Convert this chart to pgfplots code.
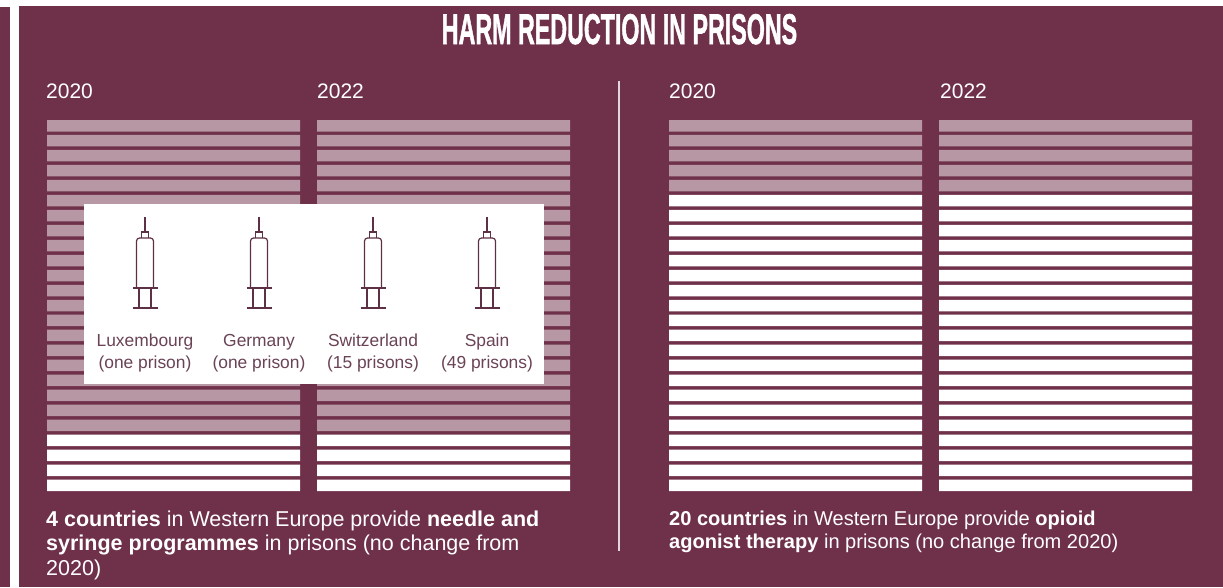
\documentclass[border=0pt]{standalone}
\usepackage{pgfplots}
\usepackage{pgfplotstable}
\usepackage{fontspec}
\setmainfont{Liberation Sans}
\newfontfamily\titlefont[FakeBold=1.6]{Liberation Sans Bold}
\pgfplotsset{compat=1.18}
\definecolor{wine}{HTML}{6F3049}
\definecolor{winelight}{HTML}{B797A3}
\definecolor{icon}{HTML}{5E3045}
\definecolor{icontext}{HTML}{6A4356}

% One row per country, counted from the bottom: provides the service or not
\pgfplotstableread{
row with without
1 1 0
2 1 0
3 1 0
4 1 0
5 0 1
6 0 1
7 0 1
8 0 1
9 0 1
10 0 1
11 0 1
12 0 1
13 0 1
14 0 1
15 0 1
16 0 1
17 0 1
18 0 1
19 0 1
20 0 1
21 0 1
22 0 1
23 0 1
24 0 1
25 0 1
}\needletable
\pgfplotstableread{
row with without
1 1 0
2 1 0
3 1 0
4 1 0
5 1 0
6 1 0
7 1 0
8 1 0
9 1 0
10 1 0
11 1 0
12 1 0
13 1 0
14 1 0
15 1 0
16 1 0
17 1 0
18 1 0
19 1 0
20 1 0
21 0 1
22 0 1
23 0 1
24 0 1
25 0 1
}\opioidtable

% Stacked rows for one panel: #1 table, #2 left edge
\newcommand{\rowspanel}[2]{%
  \begin{axis}[
    at={(#2pt,-491pt)}, anchor=south west,
    scale only axis, width=253pt, height=371pt,
    hide axis, xmin=0, xmax=1, ymin=0.616, ymax=25.384,
    xbar stacked, bar width=11.5pt,
  ]
    \addplot[fill=white, draw=none] table[x=with, y=row] {#1};
    \addplot[fill=winelight, draw=none] table[x=without, y=row] {#1};
  \end{axis}}

% Syringe icon with its caption: #1 centre x, #2 first line, #3 second line
\newcommand{\syringe}[3]{%
  \begin{scope}[x=1pt, y=-1pt, shift={(#1pt,0pt)}, draw=icon, line width=1.2pt]
    \draw (0,217) -- (0,232);
    \draw (-3.8,238) -- (-3.8,232) -- (3.8,232) -- (3.8,238);
    \draw (-8.5,288) -- (-8.5,241) arc[start angle=180, end angle=90, radius=3pt]
      -- (5.5,238) arc[start angle=90, end angle=0, radius=3pt] -- (8.5,288);
    \draw (-12.5,288) -- (12.5,288);
    \draw (-6,288) -- (-6,308) (6,288) -- (6,308);
    \draw (-12.5,308) -- (12.5,308);
    \node[text=icontext, inner sep=0pt, font=\fontsize{17.4}{18}\selectfont, anchor=base] at (0,346) {#2};
    \node[text=icontext, inner sep=0pt, font=\fontsize{17.4}{18}\selectfont, anchor=base] at (0,368) {#3};
  \end{scope}}

\begin{document}
\begin{tikzpicture}
  % Page ground and the wine-coloured panels
  \fill[white] (0pt,0pt) rectangle (1223pt,-587pt);
  \fill[wine] (0pt,-7pt) rectangle (10pt,-587pt);
  \fill[wine] (19pt,-6pt) rectangle (1223pt,-587pt);

  \rowspanel{\needletable}{47}
  \rowspanel{\needletable}{317}
  \rowspanel{\opioidtable}{669}
  \rowspanel{\opioidtable}{939}

  \begin{scope}[x=1pt, y=-1pt]
    \node[text=white, anchor=base, inner sep=0pt, font=\titlefont\fontsize{43}{43}\selectfont] at (619.5,44)
      {\scalebox{0.541}[1]{HARM REDUCTION IN PRISONS}};
    \foreach \x/\yr in {46/2020, 317/2022, 669/2020, 940/2022}
      \node[text=white, anchor=base west, inner sep=0pt, font=\fontsize{21}{21}\selectfont] at (\x,98) {\yr};
    \draw[white!80!wine, line width=2pt] (619,81) -- (619,551);
    \fill[white] (84,204) rectangle (544,384);
    \node[text=white, anchor=north west, inner sep=0pt, align=left,
      font=\fontsize{21.5}{24.5}\selectfont] at (46,510.5)
      {\textbf{4 countries} in Western Europe provide \textbf{needle and}\\
       \textbf{syringe programmes} in prisons (no change from\\2020)};
    \node[text=white, anchor=north west, inner sep=0pt, align=left,
      font=\fontsize{20.05}{23}\selectfont] at (669,511)
      {\textbf{20 countries} in Western Europe provide \textbf{opioid}\\
       \textbf{agonist therapy} in prisons (no change from 2020)};
  \end{scope}

  \syringe{145}{Luxembourg}{(one prison)}
  \syringe{259}{Germany}{(one prison)}
  \syringe{373}{Switzerland}{(15 prisons)}
  \syringe{487}{Spain}{(49 prisons)}
\end{tikzpicture}
\end{document}
